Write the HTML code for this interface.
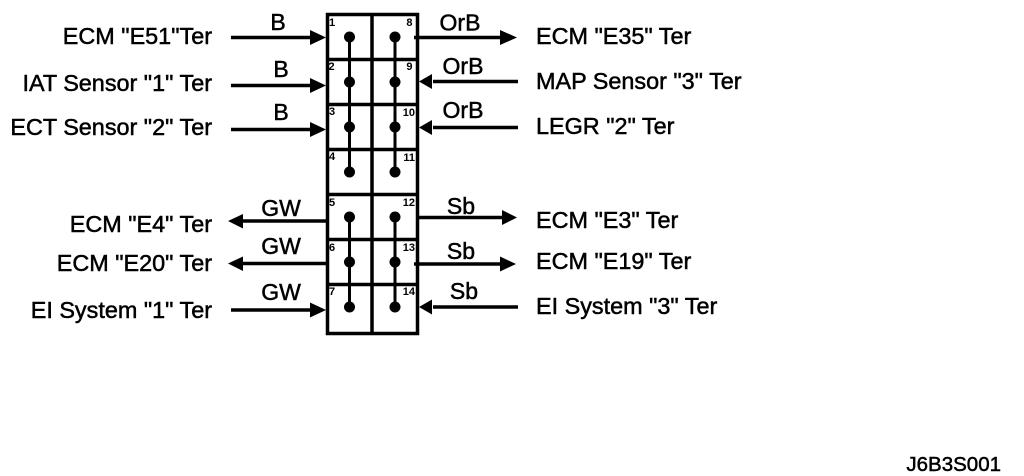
<!DOCTYPE html>
<html><head><meta charset="utf-8"><style>
html,body{margin:0;padding:0;background:#fff;width:1024px;height:476px;overflow:hidden}
svg{display:block}
text{font-family:"Liberation Sans",sans-serif;font-size:23.4px;fill:#000;stroke:#000;stroke-width:.5px}
.l{font-size:23px}
.n{font-size:11px;font-weight:bold;stroke:none}
.r{text-anchor:end}.m{text-anchor:middle}
</style></head><body>
<svg width="1024" height="476" viewBox="0 0 1024 476" xmlns="http://www.w3.org/2000/svg">
<g stroke="#000" fill="none">
<rect x="327.5" y="14.5" width="90" height="319" stroke-width="3.5"/>
<path d="M372 14V333" stroke-width="3.5"/>
<path d="M327 59.500H418M327 104.500H418M327 149.500H418M327 194.500H418M327 239.500H418M327 284.500H418" stroke-width="3.500"/>
<path d="M349.500 37V172M395 37V172M349.500 217V307M395 217V307" stroke-width="3"/>
<g stroke-width="3.500">
<path d="M231 37.500H312M231 85.500H312M231 129.500H312M231 310H312"/>
<path d="M414 37.500H502M433 81.500H518M433 127.500H518M433 307H518"/>
<path d="M327 221H242M327 263.500H242"/>
<path d="M418 217.500H503M414 264H503"/>
</g>
</g>
<g fill="#000">
<circle cx="349.500" cy="37" r="5.500"/><circle cx="395" cy="37" r="5.500"/>
<circle cx="349.500" cy="82" r="5.500"/><circle cx="395" cy="82" r="5.500"/>
<circle cx="349.500" cy="127" r="5.500"/><circle cx="395" cy="127" r="5.500"/>
<circle cx="349.500" cy="172" r="5.500"/><circle cx="395" cy="172" r="5.500"/>
<circle cx="349.500" cy="217" r="5.500"/><circle cx="395" cy="217" r="5.500"/>
<circle cx="349.500" cy="262" r="5.500"/><circle cx="395" cy="262" r="5.500"/>
<circle cx="349.500" cy="307" r="5.500"/><circle cx="395" cy="307" r="5.500"/>
<path d="M326 37.500L310 30V45Z"/><path d="M326 85.500L310 78V93Z"/><path d="M326 129.500L310 122V137Z"/><path d="M326 310L310 302.500V317.500Z"/>
<path d="M517 37.500L500 30V45Z"/><path d="M517 217.500L502 210V225Z"/><path d="M516 264L500 256.500V271.500Z"/>
<path d="M419 81.500L432 74V89Z"/><path d="M419 127.500L432 120V135Z"/><path d="M419 307L432 299.500V314.500Z"/>
<path d="M228 221L243 214V228.500Z"/><path d="M228 263.500L243 256.500V271Z"/>
</g>
<text class="n" x="329" y="26">1</text><text class="n" x="328.500" y="70">2</text><text class="n" x="329" y="115">3</text><text class="n" x="329" y="160">4</text><text class="n" x="329" y="206">5</text><text class="n" x="329" y="251">6</text><text class="n" x="329" y="295">7</text>
<text class="n r" x="412.500" y="26">8</text><text class="n r" x="412.500" y="70">9</text><text class="n r" x="415" y="116">10</text><text class="n r" x="415" y="161">11</text><text class="n r" x="415" y="206">12</text><text class="n r" x="415" y="251">13</text><text class="n r" x="415" y="295">14</text>

<text class="r" x="212" y="44">ECM "E51"Ter</text>
<text class="r" x="212" y="91">IAT Sensor "1" Ter</text>
<text class="r" x="212" y="135">ECT Sensor "2" Ter</text>
<text class="r" x="212" y="232">ECM "E4" Ter</text>
<text class="r" x="212" y="271">ECM "E20" Ter</text>
<text class="r" x="212" y="318">EI System "1" Ter</text>

<text x="536" y="44">ECM "E35" Ter</text>
<text x="536" y="89">MAP Sensor "3" Ter</text>
<text x="536" y="134">LEGR "2" Ter</text>
<text x="536" y="228">ECM "E3" Ter</text>
<text x="536" y="269">ECM "E19" Ter</text>
<text x="536" y="314">EI System "3" Ter</text>

<text class="m l" x="278" y="30">B</text>
<text class="m l" x="281" y="77">B</text>
<text class="m l" x="281" y="120">B</text>
<text class="m l" x="281" y="216">GW</text>
<text class="m l" x="281" y="254">GW</text>
<text class="m l" x="281" y="300">GW</text>
<text class="m l" x="460" y="30.500">OrB</text>
<text class="m l" x="463" y="74">OrB</text>
<text class="m l" x="463" y="118">OrB</text>
<text class="m l" x="461" y="214">Sb</text>
<text class="m l" x="461" y="259">Sb</text>
<text class="m l" x="464" y="299">Sb</text>
<text class="r" style="font-size:20.500px" x="1001" y="471">J6B3S001</text>
</svg>
</body></html>
